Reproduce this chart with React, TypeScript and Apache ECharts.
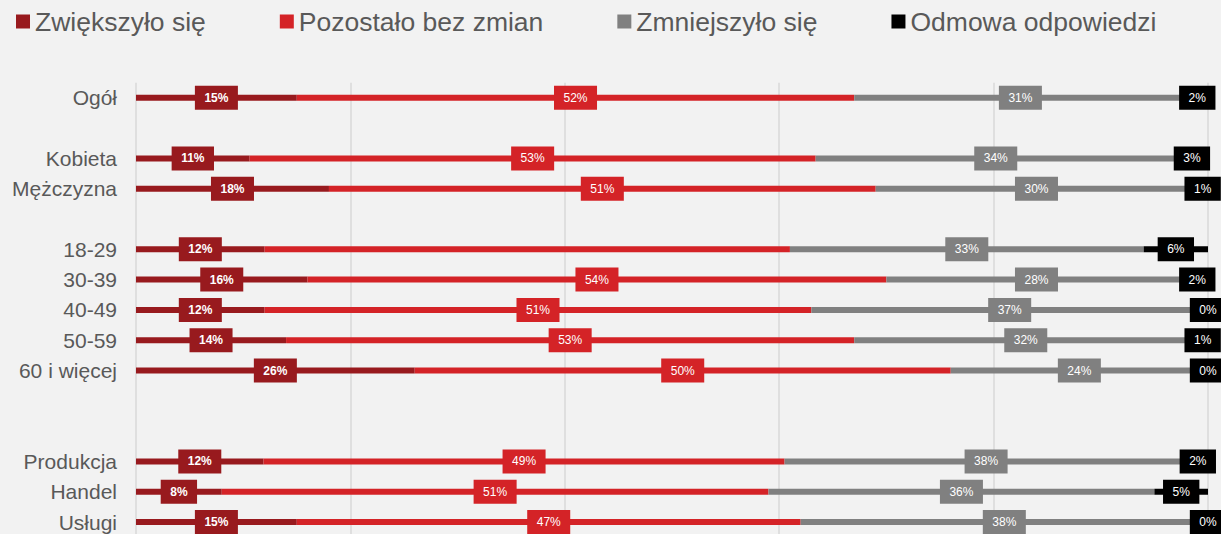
import React, { useEffect, useRef } from "react";
import * as echarts from "echarts";

const categories = [
  "Ogół", " ", "Kobieta", "Mężczyzna", "  ", "18-29", "30-39", "40-49", "50-59", "60 i więcej", "   ", "    ", "Produkcja", "Handel", "Usługi",
];
const seriesNames = ["Zwiększyło się", "Pozostało bez zmian", "Zmniejszyło się", "Odmowa odpowiedzi"];
const increased = [15, null, 10.6, 18, null, 12, 16, 12, 14, 26, null, null, 11.9, 8, 15];
const unchanged = [52, null, 52.8, 51, null, 49, 54, 51, 53, 50, null, null, 48.6, 51, 47];
const decreased = [31, null, 33.6, 30, null, 33, 28, 37, 32, 24, null, null, 37.6, 36, 38];
const refused = [2, null, 3, 1, null, 6, 2, 0, 1, 0, null, null, 1.9, 5, 0];
const hiddenLabel = [[], [], [], []] as number[][];
hiddenLabel[1] = [5]; // 18-29 "Pozostało bez zmian" has no label in the reference
const xTicks = { min: 0, max: 100, interval: 20 };

const colors = ["#981A1E", "#D42327", "#808080", "#000000"];
const FONT = "'Liberation Sans', Arial, sans-serif";

export default function App() {
  const ref = useRef<HTMLDivElement>(null);
  useEffect(() => {
    if (!ref.current) return;
    const chart = echarts.init(ref.current, undefined, { renderer: "svg" });
    const allData = [increased, unchanged, decreased, refused];
    const series = allData.map((arr, si) => ({
      name: seriesNames[si],
      type: "bar",
      stack: "total",
      barWidth: 6,
      itemStyle: { color: colors[si] },
      label: {
        show: true,
        position: "inside",
        formatter: (p: any) => Math.round(p.value) + "%",
        color: "#ffffff",
        fontFamily: FONT,
        fontSize: 12,
        fontWeight: si === 0 ? "bold" : "normal",
        lineHeight: 14,
        backgroundColor: colors[si],
        padding: [5, 9.5, 5, 9.5],
      },
      data: arr.map((v, i) =>
        v === null ? null : hiddenLabel[si].includes(i) ? { value: v, label: { show: false } } : v
      ),
    }));
    chart.setOption({
      animation: false,
      backgroundColor: "#F2F2F2",
      textStyle: { fontFamily: FONT },
      legend: {
        data: seriesNames,
        left: 11,
        top: 3,
        itemGap: 74,
        itemWidth: 14,
        itemHeight: 14,
        icon: "rect",
        textStyle: { fontSize: 26.5, color: "#595959", fontFamily: FONT },
      },
      grid: { left: 136, right: 13, top: 82.65, height: 454.5 },
      xAxis: {
        type: "value",
        min: xTicks.min,
        max: xTicks.max,
        interval: xTicks.interval,
        axisLabel: { show: false },
        axisLine: { show: false },
        axisTick: { show: false },
        splitLine: { show: true, lineStyle: { color: "#D9D9D9", width: 1.5 } },
      },
      yAxis: {
        type: "category",
        inverse: true,
        data: categories,
        axisLine: { show: false },
        axisTick: { show: false },
        axisLabel: { fontSize: 21, color: "#595959", margin: 19, fontFamily: FONT },
      },
      series,
    });
    return () => chart.dispose();
  }, []);
  return (
    <div style={{ position: "fixed", top: 0, left: 0, width: 1221, height: 534, overflow: "hidden", background: "#F2F2F2" }}>
      <div ref={ref} style={{ width: 1221, height: 545 }} />
    </div>
  );
}
